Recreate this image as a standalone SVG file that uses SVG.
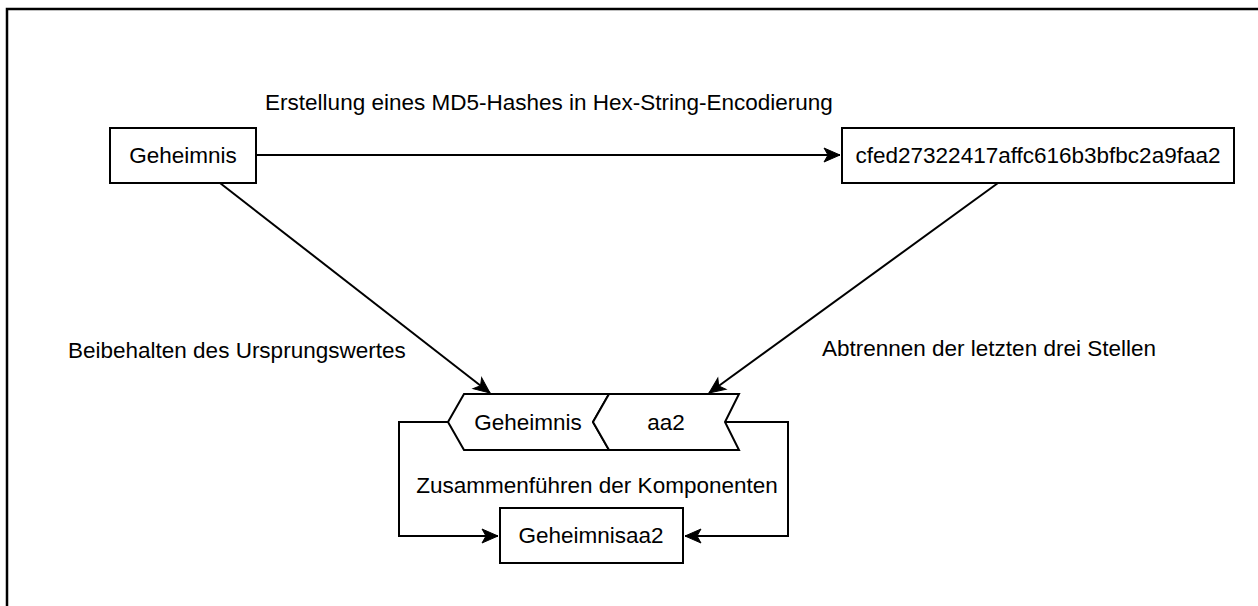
<svg xmlns="http://www.w3.org/2000/svg" width="1258" height="606" viewBox="0 0 1258 606">
<style>
.box{fill:#fff;stroke:#000;stroke-width:2}
.t{font-family:"Liberation Sans",Arial,sans-serif;font-size:22.5px;fill:#000}
.c{text-anchor:middle}
.edge{fill:none;stroke:#000;stroke-width:2}
</style>
<defs>
<marker id="arr" markerUnits="userSpaceOnUse" markerWidth="20" markerHeight="20" viewBox="0 0 20 20" refX="18" refY="10" orient="auto">
<path d="M2,3 L18,10 L2,17 L6,10 z" fill="#000" stroke="#000" stroke-width="1"/>
</marker>
</defs>
<rect x="0" y="0" width="1258" height="606" fill="#fff"/>
<path d="M7,606 V9 H1258" fill="none" stroke="#000" stroke-width="2.5"/>
<g id="connectors">
<line class="edge" x1="256" y1="155" x2="840" y2="155" marker-end="url(#arr)"/>
<line class="edge" x1="220" y1="183" x2="490" y2="393" marker-end="url(#arr)"/>
<line class="edge" x1="998" y1="183" x2="709" y2="393" marker-end="url(#arr)"/>
<path class="edge" d="M448,422 H399 V536 H498" marker-end="url(#arr)"/>
<path class="edge" d="M725,422 H788 V536 H685" marker-end="url(#arr)"/>
</g>
<g id="label-hash"><text class="t c" x="549" y="110">Erstellung eines MD5-Hashes in Hex-String-Encodierung</text></g>
<g id="label-keep"><text class="t" x="68" y="358">Beibehalten des Ursprungswertes</text></g>
<g id="label-cut"><text class="t" x="822" y="356">Abtrennen der letzten drei Stellen</text></g>
<g id="label-merge"><text class="t c" x="597" y="493">Zusammenführen der Komponenten</text></g>
<g id="node-secret">
<rect class="box" x="110" y="128" width="146" height="55"/>
<text class="t c" x="183" y="163">Geheimnis</text>
</g>
<g id="node-hash">
<rect class="box" x="842" y="128" width="392" height="55"/>
<text class="t c" x="1038" y="163">cfed27322417affc616b3bfbc2a9faa2</text>
</g>
<g id="node-part1">
<polygon class="box" points="464,394 609,394 593,422 609,450 464,450 448,422"/>
<text class="t c" x="528" y="430">Geheimnis</text>
</g>
<g id="node-part2">
<polygon class="box" points="609,394 739,394 725,422 739,450 609,450 593,422"/>
<text class="t c" x="666" y="430">aa2</text>
</g>
<g id="node-result">
<rect class="box" x="500" y="508" width="183" height="55"/>
<text class="t c" x="591" y="543">Geheimnisaa2</text>
</g>
</svg>
